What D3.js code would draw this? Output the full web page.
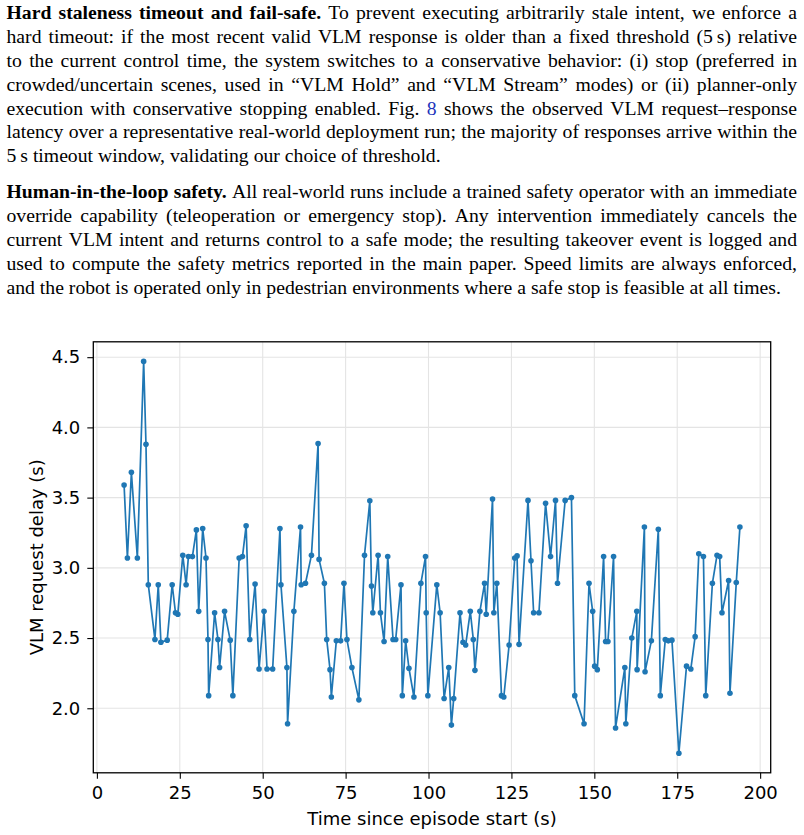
<!DOCTYPE html>
<html>
<head>
<meta charset="utf-8">
<script src="https://cdn.jsdelivr.net/npm/d3@7"></script>
<style>
  html, body { margin: 0; padding: 0; background: #fff; }
  svg { display: block; }
</style>
</head>
<body>
<script>
// ---------------- DATA ----------------
const times = [8.2,9.2,10.4,12.2,14.1,14.8,15.5,17.5,18.5,19.3,
  21.2,22.7,23.7,24.4,25.9,26.9,27.6,28.8,30.0,30.7,
  31.9,32.9,33.5,33.7,35.5,36.5,37.0,38.5,40.2,41.0,
  42.9,43.9,45.0,46.1,47.7,48.9,50.4,51.3,53.0,55.2,
  55.5,57.3,57.5,59.4,61.4,61.6,62.9,64.7,66.7,67.0,
  68.6,69.3,70.3,70.7,72.2,73.5,74.5,75.4,76.9,79.0,
  80.7,82.3,82.8,83.2,84.8,85.5,86.6,87.7,89.3,90.1,
  91.7,92.1,93.1,94.1,95.6,97.7,99.1,99.3,99.8,102.5,
  103.5,104.7,106.1,106.9,107.6,109.5,110.4,111.2,112.6,113.5,
  114.0,115.5,116.9,117.4,119.3,119.7,120.6,122.0,122.7,124.3,
  126.0,126.7,127.3,130.0,130.9,131.7,133.3,135.3,136.8,138.3,
  138.9,141.2,143.1,144.1,146.9,148.4,149.5,150.1,150.9,152.8,
  153.4,154.1,155.8,156.4,159.2,159.5,161.3,162.8,162.9,165.1,
  165.3,167.2,169.3,169.9,171.4,172.3,173.4,175.5,177.8,179.1,
  180.4,181.5,182.9,183.6,185.6,187.0,187.8,188.5,190.5,190.9,
  192.8,193.9];

const delays = [3.59,3.07,3.68,3.07,4.47,3.88,2.88,2.49,2.88,2.47,
  2.485,2.88,2.68,2.67,3.09,2.88,3.08,3.08,3.27,2.69,
  3.28,3.07,2.49,2.09,2.68,2.49,2.29,2.69,2.485,2.09,
  3.07,3.08,3.30,2.49,2.885,2.28,2.69,2.28,2.28,3.28,
  2.88,2.29,1.89,2.69,3.29,2.88,2.89,3.09,3.885,3.06,
  2.89,2.49,2.275,2.08,2.48,2.48,2.89,2.49,2.29,2.06,
  3.09,3.477,2.87,2.68,3.09,2.68,2.475,3.08,2.49,2.49,
  2.88,2.09,2.48,2.285,2.08,2.89,3.08,2.68,2.09,2.88,
  2.68,2.07,2.29,1.88,2.07,2.68,2.47,2.45,2.69,2.49,
  2.27,2.69,2.89,2.67,3.49,2.68,2.89,2.09,2.08,2.45,
  3.07,3.085,2.455,3.48,3.05,2.68,2.68,3.46,3.08,3.48,
  2.89,3.48,3.50,2.09,1.89,2.89,2.69,2.30,2.275,3.08,
  2.475,2.475,3.08,1.86,2.29,1.89,2.50,2.69,2.275,3.29,
  2.26,2.48,3.275,2.09,2.49,2.48,2.485,1.68,2.30,2.28,
  2.51,3.10,3.08,2.09,2.89,3.09,3.08,2.68,2.91,2.107,
  2.895,3.29];

const xTicks = [0, 25, 50, 75, 100, 125, 150, 175, 200];
const yTicks = [2.0, 2.5, 3.0, 3.5, 4.0, 4.5];
const xLabel = "Time since episode start (s)";
const yLabel = "VLM request delay (s)";

// Paragraph text, line by line: [text, style] with style "b" bold, "l" link
const para1 = [
  [["Hard staleness timeout and fail-safe.", "b"], ["To prevent executing arbitrarily stale intent, we enforce a", ""]],
  [["hard timeout: if the most recent valid VLM response is older than a fixed threshold (5\u2009s) relative", ""]],
  [["to the current control time, the system switches to a conservative behavior: (i) stop (preferred in", ""]],
  [["crowded/uncertain scenes, used in \u201CVLM Hold\u201D and \u201CVLM Stream\u201D modes) or (ii) planner-only", ""]],
  [["execution with conservative stopping enabled. Fig.", ""], ["8", "l"], ["shows the observed VLM request\u2013response", ""]],
  [["latency over a representative real-world deployment run; the majority of responses arrive within the", ""]],
  [["5\u2009s timeout window, validating our choice of threshold.", ""]]
];
const para2 = [
  [["Human-in-the-loop safety.", "b"], ["All real-world runs include a trained safety operator with an immediate", ""]],
  [["override capability (teleoperation or emergency stop). Any intervention immediately cancels the", ""]],
  [["current VLM intent and returns control to a safe mode; the resulting takeover event is logged and", ""]],
  [["used to compute the safety metrics reported in the main paper. Speed limits are always enforced,", ""]],
  [["and the robot is operated only in pedestrian environments where a safe stop is feasible at all times.", ""]]
];

// ---------------- LAYOUT ----------------
const W = 804, H = 835;
const svg = d3.select("body").append("svg").attr("width", W).attr("height", H);

const TXT_L = 6.5, TXT_R = 797, FS = 19.7, LH = 23.8;
const serif = "'Liberation Serif', 'Times New Roman', serif";

function drawLine(segs, y, justify) {
  const words = [];
  segs.forEach(([t, st]) => t.split(" ").filter(w => w.length).forEach(w => words.push({ w, st })));
  const g = svg.append("g");
  const nodes = words.map(d => g.append("text")
    .attr("y", y)
    .attr("font-family", serif)
    .attr("font-size", FS)
    .attr("font-weight", d.st === "b" ? "bold" : "normal")
    .attr("fill", d.st === "l" ? "#2233bb" : "#000")
    .text(d.w));
  const widths = nodes.map(n => n.node().getComputedTextLength());
  const total = d3.sum(widths);
  const gap = justify ? (TXT_R - TXT_L - total) / (words.length - 1) : FS * 0.25;
  let x = TXT_L;
  nodes.forEach((n, i) => { n.attr("x", x); x += widths[i] + gap; });
}
para1.forEach((ln, i) => drawLine(ln, 19.3 + i * LH, i < para1.length - 1));
para2.forEach((ln, i) => drawLine(ln, 198.3 + i * LH, i < para2.length - 1));

// ---------------- CHART ----------------
const plot = { left: 93.3, right: 770.7, top: 341.8, bottom: 772.8 };
const sans = "'DejaVu Sans', sans-serif";
const blue = "#1f77b4";

const [xmin, xmax] = d3.extent(times);
const [ymin, ymax] = d3.extent(delays);
const xpad = (xmax - xmin) * 0.05, ypad = (ymax - ymin) * 0.05;
const x = d3.scaleLinear().domain([xmin - xpad, xmax + xpad]).range([plot.left, plot.right]);
const y = d3.scaleLinear().domain([ymin - ypad, ymax + ypad]).range([plot.bottom, plot.top]);

const data = times.map((t, i) => ({ t, v: delays[i] }));

// grid
const grid = svg.append("g").attr("stroke", "#e4e4e4").attr("stroke-width", 1.1);
xTicks.forEach(t => grid.append("line").attr("x1", x(t)).attr("x2", x(t)).attr("y1", plot.top).attr("y2", plot.bottom));
yTicks.forEach(t => grid.append("line").attr("x1", plot.left).attr("x2", plot.right).attr("y1", y(t)).attr("y2", y(t)));

// line + markers
svg.append("path").datum(data)
  .attr("fill", "none").attr("stroke", blue).attr("stroke-width", 1.7)
  .attr("stroke-linejoin", "round")
  .attr("d", d3.line().x(d => x(d.t)).y(d => y(d.v)));
svg.append("g").selectAll("circle").data(data).join("circle")
  .attr("cx", d => x(d.t)).attr("cy", d => y(d.v)).attr("r", 2.8).attr("fill", blue);

// axes
const xAxis = svg.append("g").attr("transform", `translate(0,${plot.bottom})`)
  .call(d3.axisBottom(x).tickValues(xTicks).tickFormat(d3.format("d")).tickSize(6).tickPadding(7));
const yAxis = svg.append("g").attr("transform", `translate(${plot.left},0)`)
  .call(d3.axisLeft(y).tickValues(yTicks).tickFormat(d3.format(".1f")).tickSize(6).tickPadding(7));
[xAxis, yAxis].forEach(a => {
  a.select(".domain").remove();
  a.selectAll(".tick line").attr("stroke", "#000").attr("stroke-width", 1.1);
  a.selectAll(".tick text").attr("font-family", sans).attr("font-size", 18).attr("fill", "#000");
});

// frame
svg.append("rect").attr("x", plot.left).attr("y", plot.top)
  .attr("width", plot.right - plot.left).attr("height", plot.bottom - plot.top)
  .attr("fill", "none").attr("stroke", "#000").attr("stroke-width", 1.3);

// labels
svg.append("text").attr("x", (plot.left + plot.right) / 2).attr("y", 825)
  .attr("text-anchor", "middle").attr("font-family", sans).attr("font-size", 18).attr("fill", "#000")
  .text(xLabel);
svg.append("text").attr("transform", `translate(42.5,${(plot.top + plot.bottom) / 2}) rotate(-90)`)
  .attr("text-anchor", "middle").attr("font-family", sans).attr("font-size", 18).attr("fill", "#000")
  .text(yLabel);
</script>
</body>
</html>
